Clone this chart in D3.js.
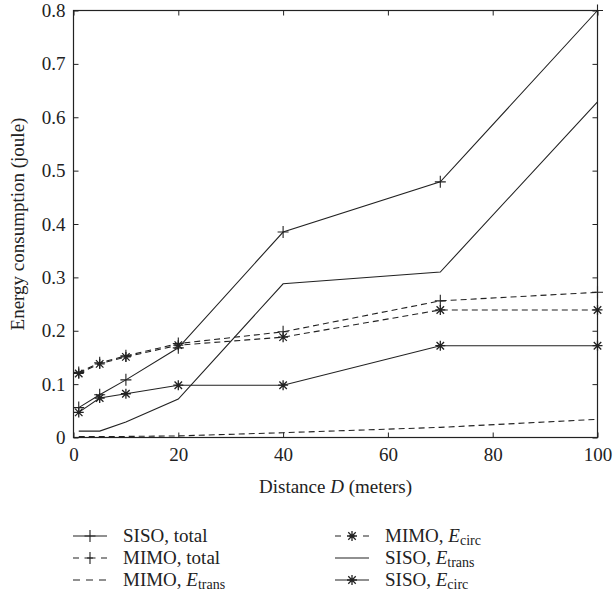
<!DOCTYPE html>
<html>
<head>
<meta charset="utf-8">
<script src="https://cdn.jsdelivr.net/npm/d3@7"></script>
<style>
  html, body { margin: 0; padding: 0; background: #fff; }
  svg { display: block; }
</style>
</head>
<body>
<svg id="chart" width="613" height="602"></svg>
<script>
// Distances (meters) at which each scheme was evaluated
const distance = [1, 5, 10, 20, 40, 70, 100];

// Energy consumption (joule)
const sisoTotal  = [0.056, 0.080, 0.108, 0.168, 0.385, 0.479, 0.800];
const mimoTotal  = [0.122, 0.140, 0.153, 0.176, 0.198, 0.256, 0.272];
const mimoEtrans = [0.002, 0.002, 0.002, 0.003, 0.009, 0.019, 0.034];
const mimoEcirc  = [0.120, 0.138, 0.151, 0.173, 0.188, 0.239, 0.239];
const sisoEtrans = [0.012, 0.012, 0.029, 0.072, 0.288, 0.310, 0.629];
const sisoEcirc  = [0.047, 0.074, 0.082, 0.098, 0.098, 0.172, 0.172];

const xTicks = [0, 20, 40, 60, 80, 100];
const yTicks = [0, 0.1, 0.2, 0.3, 0.4, 0.5, 0.6, 0.7, 0.8];

const series = [
  { name: "SISO, total",  sub: null,    values: sisoTotal,  dashed: false, marker: "plus" },
  { name: "MIMO, total",  sub: null,    values: mimoTotal,  dashed: true,  marker: "plus" },
  { name: "MIMO, E",      sub: "trans", values: mimoEtrans, dashed: true,  marker: null },
  { name: "MIMO, E",      sub: "circ",  values: mimoEcirc,  dashed: true,  marker: "star" },
  { name: "SISO, E",      sub: "trans", values: sisoEtrans, dashed: false, marker: null },
  { name: "SISO, E",      sub: "circ",  values: sisoEcirc,  dashed: false, marker: "star" }
];

const FONT = "'Liberation Serif', 'DejaVu Serif', serif";
const svg = d3.select("#chart");
const ink = "#222";
const plotL = 73.5, plotR = 597.5, plotT = 10.5, plotB = 437.5;

const x = d3.scaleLinear().domain([0, 100]).range([plotL, plotR]);
const y = d3.scaleLinear().domain([0, 0.8]).range([plotB, plotT]);

// Frame
svg.append("rect")
  .attr("x", plotL).attr("y", plotT)
  .attr("width", plotR - plotL).attr("height", plotB - plotT)
  .attr("fill", "none").attr("stroke", ink).attr("stroke-width", 1.2);

// Axes with inward ticks
const fmtY = d => d === 0 ? "0" : d3.format(".1f")(d);
const axB = svg.append("g").attr("transform", `translate(0,${plotB})`)
  .call(d3.axisBottom(x).tickValues(xTicks).tickSizeInner(-5).tickSizeOuter(0).tickPadding(10));
const axT = svg.append("g").attr("transform", `translate(0,${plotT})`)
  .call(d3.axisTop(x).tickValues(xTicks).tickSizeInner(-5).tickSizeOuter(0).tickFormat(""));
const axL = svg.append("g").attr("transform", `translate(${plotL},0)`)
  .call(d3.axisLeft(y).tickValues(yTicks).tickSizeInner(-5).tickSizeOuter(0).tickPadding(8).tickFormat(fmtY));
const axR = svg.append("g").attr("transform", `translate(${plotR},0)`)
  .call(d3.axisRight(y).tickValues(yTicks).tickSizeInner(-5).tickSizeOuter(0).tickFormat(""));
[axB, axT, axL, axR].forEach(g => {
  g.attr("font-family", null).attr("font-size", null);
  g.select(".domain").remove();
  g.selectAll(".tick line").attr("stroke", ink);
  g.selectAll(".tick text")
    .style("font-family", FONT).style("font-size", "19px").attr("fill", ink);
});

// Marker painters
function drawMarker(g, kind, cx, cy) {
  if (kind === "plus") {
    g.append("path")
      .attr("d", `M${cx - 5.5},${cy}H${cx + 5.5}M${cx},${cy - 6}V${cy + 6}`)
      .attr("stroke", ink).attr("stroke-width", 1.1).attr("fill", "none");
  } else if (kind === "star") {
    const r = 5;
    let d = `M${cx - r},${cy}H${cx + r}M${cx},${cy - r}V${cy + r}`;
    const k = r * 0.75;
    d += `M${cx - k},${cy - k}L${cx + k},${cy + k}M${cx - k},${cy + k}L${cx + k},${cy - k}`;
    g.append("path").attr("d", d)
      .attr("stroke", ink).attr("stroke-width", 1.3).attr("fill", "none");
  }
}

// Series lines
const line = d3.line().x((d, i) => x(distance[i])).y(d => y(d));
const plot = svg.append("g");
series.forEach(s => {
  plot.append("path")
    .attr("d", line(s.values))
    .attr("fill", "none").attr("stroke", ink).attr("stroke-width", 1.1)
    .attr("stroke-dasharray", s.dashed ? "6,4" : null);
  if (s.marker) {
    s.values.forEach((v, i) => drawMarker(plot, s.marker, x(distance[i]), y(v)));
  }
});

// Axis titles
const xt = svg.append("text")
  .attr("x", (plotL + plotR) / 2).attr("y", 493)
  .attr("text-anchor", "middle").attr("fill", ink)
  .style("font-family", FONT).style("font-size", "19px");
xt.append("tspan").text("Distance ");
xt.append("tspan").style("font-style", "italic").text("D");
xt.append("tspan").text(" (meters)");

svg.append("text")
  .attr("transform", `translate(24,${(plotT + plotB) / 2}) rotate(-90)`)
  .attr("text-anchor", "middle").attr("fill", ink)
  .style("font-family", FONT).style("font-size", "19px")
  .text("Energy consumption (joule)");

// Legend
const legendPos = [
  [73, 542], [73, 564], [73, 586],
  [335, 542], [335, 564], [335, 586]
];
series.forEach((s, i) => {
  const [lx, ly] = legendPos[i];
  const g = svg.append("g");
  const lineLen = 34;
  const cy = ly - 6;
  g.append("path")
    .attr("d", `M${lx},${cy}H${lx + lineLen}`)
    .attr("stroke", ink).attr("stroke-width", 1.1)
    .attr("stroke-dasharray", s.dashed ? (s.marker ? "6,8,6,8" : "7,6") : null);
  if (s.marker) drawMarker(g, s.marker, lx + lineLen / 2, cy);
  const t = g.append("text").attr("x", lx + 50).attr("y", ly).attr("fill", ink)
    .style("font-family", FONT).style("font-size", "19px");
  if (s.sub) {
    t.append("tspan").text(s.name.replace(/E$/, ""));
    t.append("tspan").style("font-style", "italic").text("E");
    t.append("tspan").style("font-size", "14px").attr("dy", 3).text(s.sub);
  } else {
    t.text(s.name);
  }
});
</script>
</body>
</html>
